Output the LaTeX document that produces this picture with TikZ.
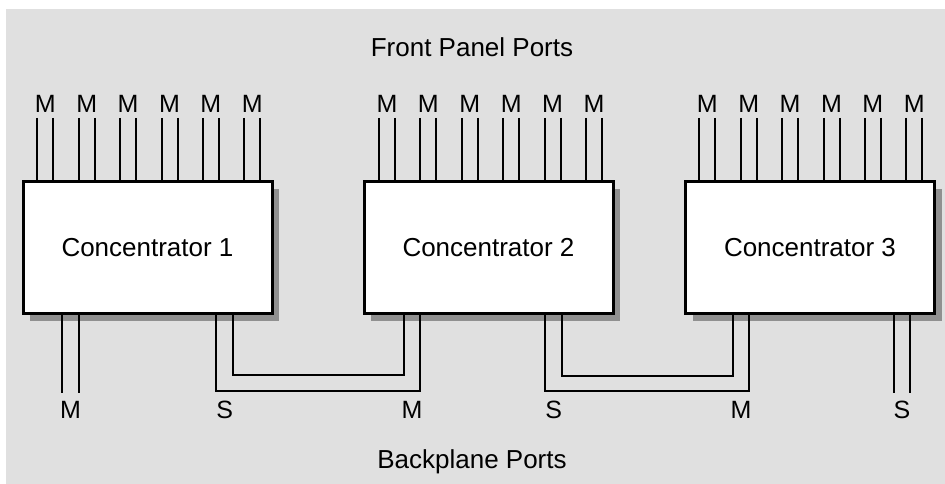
\documentclass[tikz,border=0pt]{standalone}
\usepackage{fontspec}
\setmainfont{Liberation Sans}
\usetikzlibrary{shadows}
\definecolor{bggray}{HTML}{E0E0E0}
\definecolor{shadowgray}{HTML}{909090}
\begin{document}
\begin{tikzpicture}[x=1pt,y=-1pt,
  conc/.style={draw=black, line width=3pt, fill=white, minimum width=249pt,
    minimum height=132pt, inner sep=0pt, font=\fontsize{26}{30}\selectfont,
    drop shadow={shadow xshift=7pt, shadow yshift=-7pt, fill=shadowgray, opacity=1}},
  wire/.style={line width=2pt, line cap=butt},
  lbl/.style={font=\fontsize{25}{30}\selectfont, inner sep=0pt},
  ttl/.style={font=\fontsize{26}{30}\selectfont, inner sep=0pt}]
\useasboundingbox (0,0) rectangle (945,484);
\fill[bggray] (6,9) rectangle (945,484);

\node[ttl] (front) at (472,47) {Front Panel Ports};
\node[ttl] (back) at (472,462) {Backplane Ports};

\node[conc] (c1) at (147.5,247.5) {Concentrator 1};
\node[conc] (c2) at (488.5,247.5) {Concentrator 2};
\node[conc] (c3) at (810,247.5) {Concentrator 3};

% front panel M ports
\foreach \b/\s in {c1/45.3, c2/387, c3/707.3}{
  \foreach \k in {0,...,5}{
    \pgfmathsetmacro{\xc}{\s+41.4*\k}
    \node[lbl] (m-\b-\k) at (\xc,104) {M};
    \coordinate (wa-\b-\k) at (\xc-8,118);
    \coordinate (wb-\b-\k) at (\xc+8,118);
    \draw[wire] (wa-\b-\k) -- (wa-\b-\k |- \b.north);
    \draw[wire] (wb-\b-\k) -- (wb-\b-\k |- \b.north);
  }
}

% backplane: concentrator 1 M port
\coordinate (b1a) at (62,392.5);
\coordinate (b1b) at (78.7,392.5);
\draw[wire] (b1a |- c1.south) -- (b1a);
\draw[wire] (b1b |- c1.south) -- (b1b);
\node[lbl] (lb1) at (70.5,410) {M};

% concentrator 1 S -> concentrator 2 M
\coordinate (s1o) at (216.3,390.7);
\coordinate (s1i) at (233,375.3);
\coordinate (m2i) at (403.7,375.3);
\coordinate (m2o) at (420.3,390.7);
\draw[wire] (s1o |- c1.south) -- (s1o) -- (m2o) -- (m2o |- c2.south);
\draw[wire] (s1i |- c1.south) -- (s1i) -- (m2i) -- (m2i |- c2.south);
\node[lbl] (ls1) at (224.7,410) {S};
\node[lbl] (lm2) at (412,410) {M};

% concentrator 2 S -> concentrator 3 M
\coordinate (s2o) at (545,390.7);
\coordinate (s2i) at (562.3,375.7);
\coordinate (m3i) at (732.7,375.7);
\coordinate (m3o) at (749.3,390.7);
\draw[wire] (s2o |- c2.south) -- (s2o) -- (m3o) -- (m3o |- c3.south);
\draw[wire] (s2i |- c2.south) -- (s2i) -- (m3i) -- (m3i |- c3.south);
\node[lbl] (ls2) at (553.7,410) {S};
\node[lbl] (lm3) at (741,410) {M};

% concentrator 3 S port
\coordinate (b3a) at (893.7,392.5);
\coordinate (b3b) at (910.3,392.5);
\draw[wire] (b3a |- c3.south) -- (b3a);
\draw[wire] (b3b |- c3.south) -- (b3b);
\node[lbl] (ls3) at (902,410) {S};
\end{tikzpicture}
\end{document}
